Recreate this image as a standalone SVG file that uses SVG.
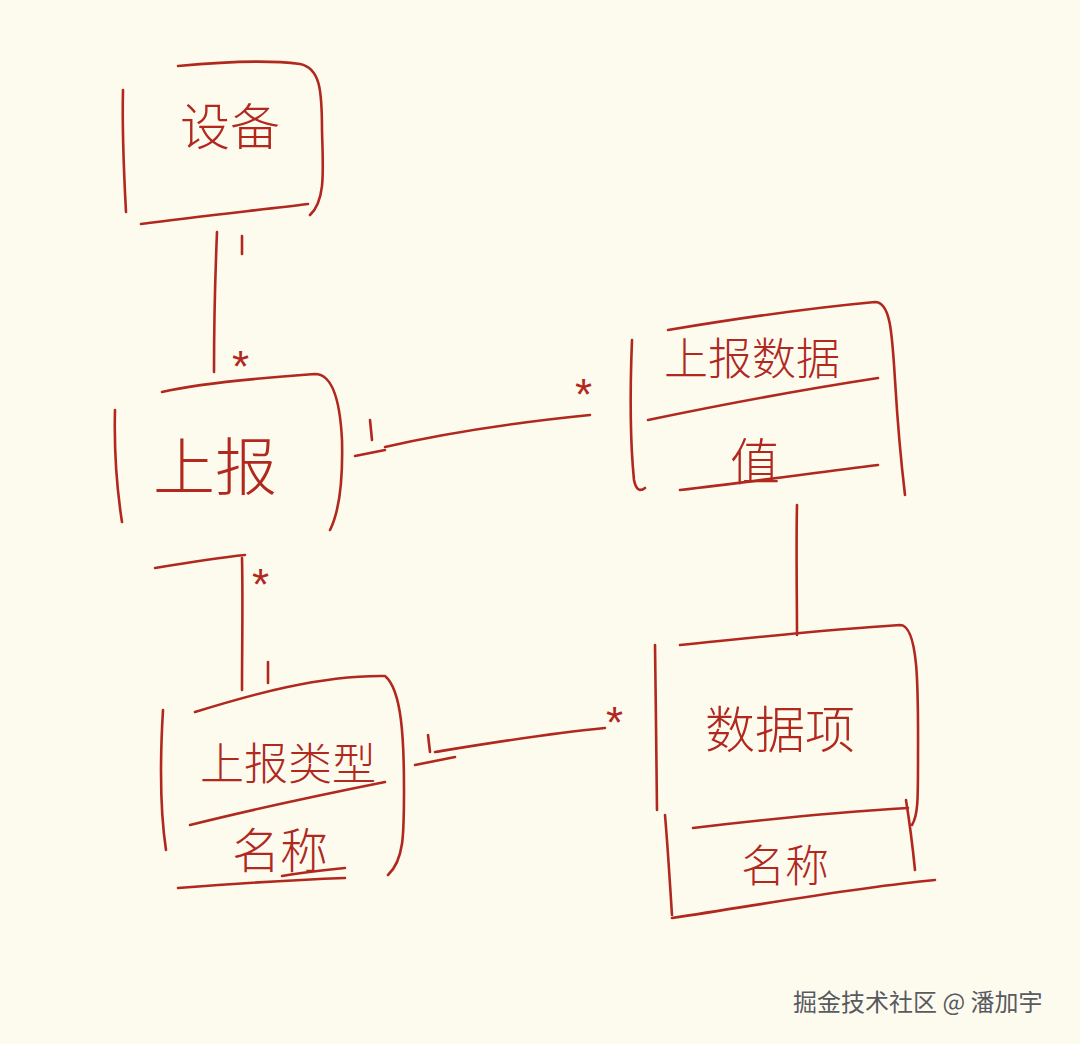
<svg xmlns="http://www.w3.org/2000/svg" width="1080" height="1044" viewBox="0 0 1080 1044">
<style>
.s{fill:none;stroke:#b0281e;stroke-width:2.6;stroke-linecap:round;stroke-linejoin:round}
.t{font-family:"Noto Sans CJK SC","Noto Sans CJK JP",sans-serif;fill:#b0281e;font-weight:300}
.m{font-family:"Liberation Sans",sans-serif;fill:#b0281e;font-size:44px}
.w{font-family:"Noto Sans CJK SC",sans-serif;font-size:24px;fill:#5a5a5a}
</style>
<rect width="1080" height="1044" fill="#fdfbee"/>
<g id="node-shebei">
<path class="s" d="M123,90 C122,130 124,175 126,212"/>
<path class="s" d="M178,66 C220,62 270,60 300,64 C320,68 322,90 322,130 C323,170 326,200 310,215"/>
<path class="s" d="M141,224 C200,216 260,210 308,204"/>
<text class="t" x="230" y="145" font-size="50" text-anchor="middle">设备</text>
</g>
<g id="node-shangbao">
<path class="s" d="M115,410 C114,450 117,490 122,522"/>
<path class="s" d="M162,392 C200,383 260,378 315,374 C332,374 340,400 342,440 C343,480 340,510 330,530"/>
<path class="s" d="M155,568 C185,563 215,558 245,555"/>
<text class="t" x="215" y="490" font-size="62" text-anchor="middle">上报</text>
</g>
<g id="node-shangbaoshuju">
<path class="s" d="M632,340 C630,390 630,440 634,480 C636,490 640,492 645,488"/>
<path class="s" d="M668,330 C740,318 810,308 875,302 C890,302 892,330 895,380 C898,430 902,470 905,495"/>
<text class="t" x="752" y="375" font-size="44" text-anchor="middle">上报数据</text>
<path class="s" d="M648,420 C720,405 800,390 878,378"/>
<text class="t" x="755" y="480" font-size="50" text-anchor="middle">值</text>
<path class="s" d="M680,490 C750,482 820,472 878,465"/>
</g>
<g id="node-shujuxiang">
<path class="s" d="M655,645 C656,700 656,760 657,810"/>
<path class="s" d="M680,645 C750,638 820,630 900,625 C920,625 918,700 918,760 C918,800 918,815 912,825"/>
<text class="t" x="780" y="748" font-size="50" text-anchor="middle">数据项</text>
<path class="s" d="M693,828 C760,820 840,812 908,808"/>
<path class="s" d="M906,800 C910,825 913,850 915,870"/>
<path class="s" d="M665,815 C668,850 670,885 672,915"/>
<text class="t" x="785" y="882" font-size="44" text-anchor="middle">名称</text>
<path class="s" d="M672,918 C760,905 850,888 935,880"/>
</g>
<g id="node-shangbaoleixing">
<path class="s" d="M163,710 C160,760 160,810 166,850"/>
<path class="s" d="M195,712 C250,695 320,675 385,676 C402,690 404,740 404,790 C404,835 404,860 388,875"/>
<text class="t" x="288" y="780" font-size="44" text-anchor="middle">上报类型</text>
<path class="s" d="M190,825 C250,810 320,795 385,782"/>
<text class="t" x="280" y="868" font-size="48" text-anchor="middle">名称</text>
<path class="s" d="M178,888 C230,884 290,880 345,878"/>
<path class="s" d="M282,876 C305,872 325,870 345,868"/>
</g>
<g id="connectors">
<path class="s" d="M217,232 C215,280 214,330 214,372"/>
<path class="s" d="M242,236 L242,254"/>
<text class="m" x="232" y="382">*</text>
<path class="s" d="M385,447 C450,432 520,422 590,415"/>
<path class="s" d="M370,420 L372,440"/>
<path class="s" d="M355,456 C365,454 375,452 385,450"/>
<text class="m" x="575" y="410">*</text>
<path class="s" d="M242,558 C243,600 242,650 242,690"/>
<path class="s" d="M268,662 L268,683"/>
<text class="m" x="252" y="600">*</text>
<path class="s" d="M797,505 C796,550 797,595 797,635"/>
<path class="s" d="M435,752 C490,743 550,733 605,728"/>
<path class="s" d="M428,735 L430,752"/>
<path class="s" d="M415,765 C430,762 445,759 455,757"/>
<text class="m" x="606" y="738">*</text>
</g>
<text class="w" x="793" y="1011" style="paint-order:stroke" stroke="#ffffff" stroke-width="1">掘金技术社区 @ 潘加宇</text>
</svg>
